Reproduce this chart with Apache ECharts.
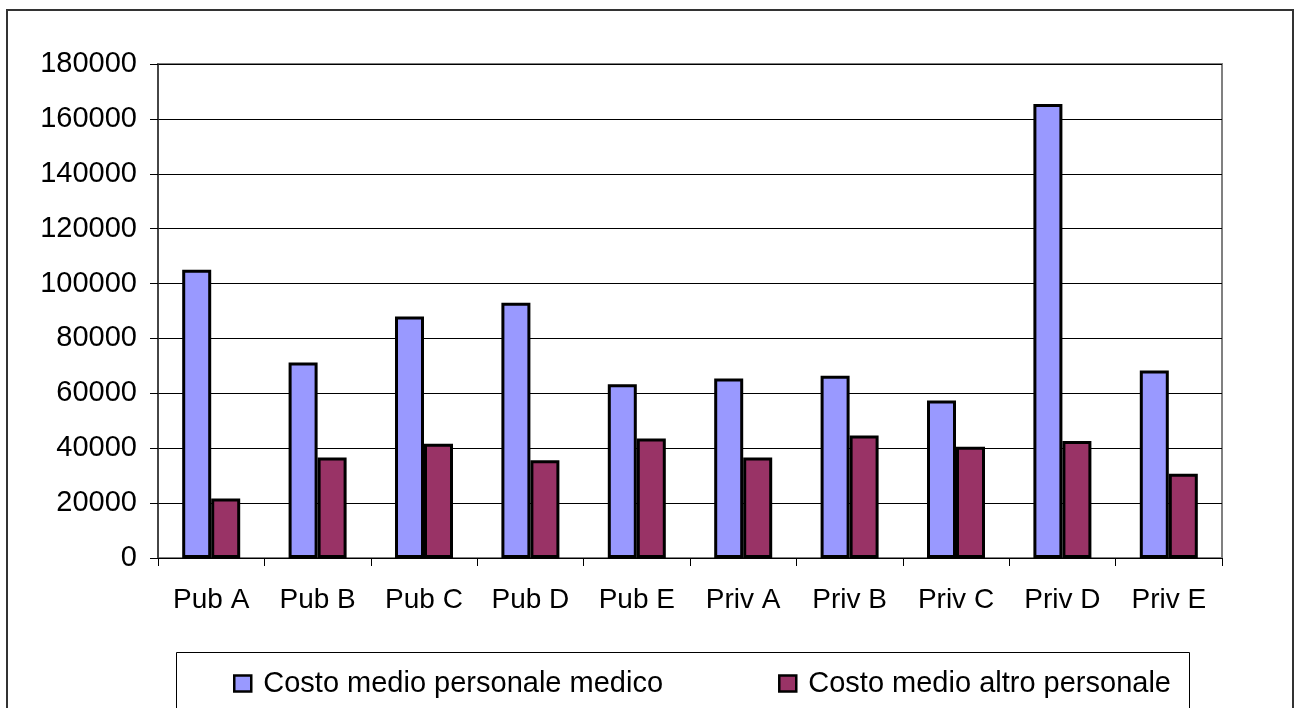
<!DOCTYPE html>
<html>
<head>
<meta charset="utf-8">
<script src="https://cdn.jsdelivr.net/npm/echarts@6/dist/echarts.min.js"></script>
<style>
  html, body { margin: 0; padding: 0; background: #fff; }
  #chart { width: 1294px; height: 708px; }
</style>
</head>
<body>
<div id="chart"></div>
<script>
// dati
const categories = ["Pub A", "Pub B", "Pub C", "Pub D", "Pub E", "Priv A", "Priv B", "Priv C", "Priv D", "Priv E"];
const costoMedico = [105000, 71200, 88000, 93000, 63300, 65400, 66400, 57400, 165400, 68300];
const costoAltro = [21700, 36600, 41600, 35600, 43500, 36600, 44600, 40500, 42600, 30700];
const seriesNames = ["Costo medio personale medico", "Costo medio altro personale"];
const yMax = 180000;
const yStep = 20000;

const FONT = "'Liberation Sans', Arial, sans-serif";

const myChart = echarts.init(document.getElementById("chart"));
const option = {
  animation: false,
  color: ["#9999FF", "#993366"],
  textStyle: { fontFamily: FONT },
  graphic: [
    {
      // cornice esterna
      type: "rect",
      shape: { x: 7, y: 10, width: 1286, height: 720 },
      style: { fill: "none", stroke: "#333", lineWidth: 2 },
      silent: true,
    },
    {
      // riquadro legenda
      type: "rect",
      shape: { x: 176.5, y: 652.5, width: 1013, height: 80 },
      style: { fill: "none", stroke: "#000", lineWidth: 1 },
      silent: true,
    },
  ],
  legend: {
    left: 228,
    top: 664,
    icon: "rect",
    itemWidth: 17,
    itemHeight: 16,
    itemGap: 115,
    textStyle: { fontSize: 29, color: "#000", fontFamily: FONT, padding: [0, 0, 0, 7] },
    itemStyle: { borderColor: "#000", borderWidth: 2.5 },
    data: seriesNames,
  },
  grid: {
    left: 158,
    right: 72,
    top: 64,
    bottom: 150,
    show: true,
    borderColor: "#808080",
    borderWidth: 2,
  },
  xAxis: {
    type: "category",
    data: categories,
    axisLine: { show: true, lineStyle: { color: "#000", width: 1 } },
    axisTick: { show: true, length: 8, lineStyle: { color: "#000" } },
    axisLabel: { color: "#000", fontSize: 28, fontFamily: FONT, margin: 28 },
    splitLine: { show: false },
  },
  yAxis: {
    type: "value",
    min: 0,
    max: yMax,
    interval: yStep,
    axisLine: { show: true, lineStyle: { color: "#333", width: 1.5 } },
    axisTick: { show: true, length: 8, lineStyle: { color: "#000" } },
    axisLabel: {
      color: "#000",
      fontSize: 29,
      fontFamily: FONT,
      margin: 21,
      formatter: (v) => String(v),
    },
    splitLine: { show: true, lineStyle: { color: "#000", width: 1 } },
  },
  series: [
    {
      name: seriesNames[0],
      type: "bar",
      barWidth: 29,
      barGap: "0%",
      itemStyle: { borderColor: "#000", borderWidth: 3 },
      data: costoMedico,
    },
    {
      name: seriesNames[1],
      type: "bar",
      barWidth: 29,
      barGap: "0%",
      itemStyle: { borderColor: "#000", borderWidth: 3 },
      data: costoAltro,
    },
  ],
};
myChart.setOption(option);
window.addEventListener("resize", () => {
  myChart.resize();
});
</script>
</body>
</html>
